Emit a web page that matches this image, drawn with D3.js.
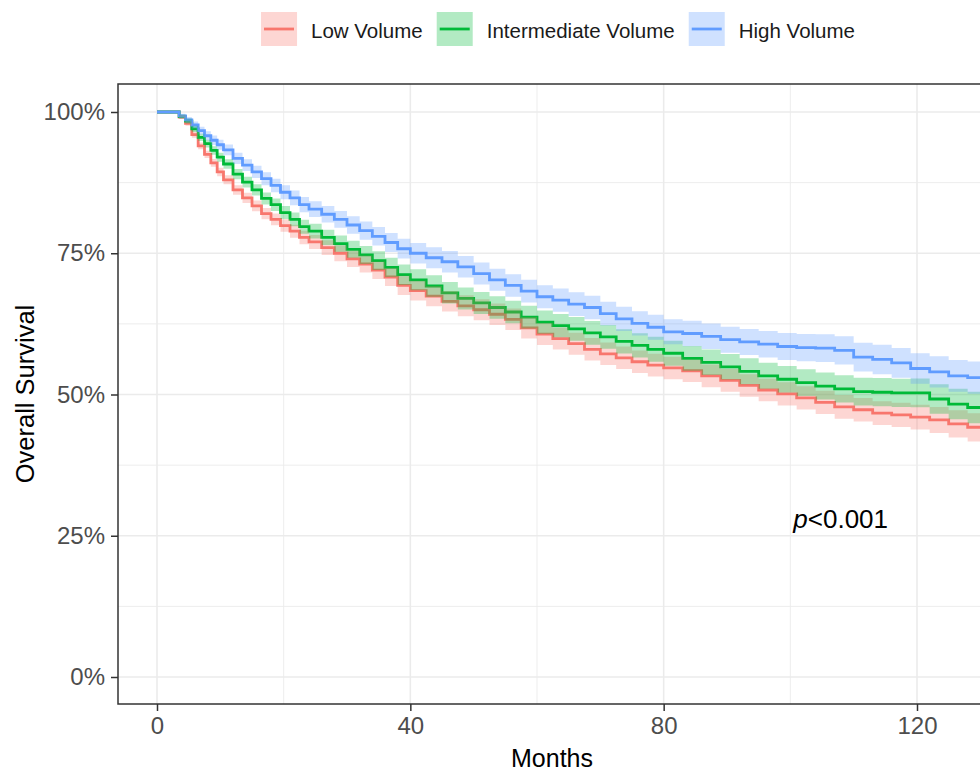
<!DOCTYPE html>
<html>
<head>
<meta charset="utf-8">
<script src="https://cdn.jsdelivr.net/npm/d3@7"></script>
<style>
  body { margin: 0; background: #fff; }
  svg { display: block; font-family: "Liberation Sans", Arial, sans-serif; }
</style>
</head>
<body>
<svg id="chart" width="980" height="773"></svg>
<script>
// time points (months) where the step curves are read
var months = [0, 2.5, 3.5, 4.5, 5.5, 6.5, 7.5, 8.5, 9.5, 10.5,
  12, 13.5, 15, 16.5, 18, 19.5, 21, 22.5, 24,
  26, 28, 30, 32, 34, 36, 38, 40,
  42.5, 45, 47.5, 50, 52.5, 55, 57.5, 60, 62.5, 65, 67.5, 70, 72.5, 75, 77.5, 80,
  83, 86, 89, 92, 95, 98, 101, 104, 107, 110, 113, 116, 119, 122, 125, 128, 131, 134];

var groups = ["Low Volume", "Intermediate Volume", "High Volume"];
var colors = ["#F8766D", "#00BA38", "#619CFF"];

// survival estimates
var lowSurv = [1, 1, 0.991, 0.980, 0.960, 0.940, 0.925, 0.910, 0.894, 0.880,
  0.862, 0.848, 0.834, 0.820, 0.810, 0.799, 0.789, 0.778, 0.770,
  0.760, 0.750, 0.740, 0.731, 0.720, 0.708, 0.693, 0.684,
  0.674, 0.665, 0.657, 0.650, 0.642, 0.633, 0.618, 0.607, 0.599, 0.590, 0.580, 0.572, 0.565, 0.558, 0.552, 0.547,
  0.542, 0.533, 0.525, 0.516, 0.508, 0.501, 0.494, 0.486, 0.478, 0.473, 0.467, 0.464, 0.460, 0.455, 0.448, 0.442, 0.440, 0.438];
var midSurv = [1, 1, 0.992, 0.984, 0.970, 0.955, 0.944, 0.932, 0.920, 0.908,
  0.890, 0.876, 0.862, 0.847, 0.836, 0.822, 0.810, 0.797, 0.789,
  0.778, 0.767, 0.757, 0.747, 0.737, 0.725, 0.712, 0.703,
  0.692, 0.680, 0.670, 0.662, 0.654, 0.646, 0.637, 0.628, 0.622, 0.616, 0.609, 0.602, 0.594, 0.587, 0.580, 0.573,
  0.564, 0.557, 0.549, 0.541, 0.533, 0.527, 0.521, 0.515, 0.510, 0.505, 0.504, 0.503, 0.503, 0.492, 0.483, 0.477, 0.472, 0.469];
var highSurv = [1, 1, 0.993, 0.986, 0.977, 0.967, 0.958, 0.950, 0.942, 0.933,
  0.918, 0.906, 0.894, 0.882, 0.870, 0.858, 0.848, 0.836, 0.828,
  0.819, 0.810, 0.800, 0.790, 0.780, 0.769, 0.758, 0.750,
  0.742, 0.735, 0.726, 0.714, 0.703, 0.693, 0.683, 0.673, 0.667, 0.660, 0.654, 0.643, 0.634, 0.626, 0.619, 0.611,
  0.608, 0.603, 0.597, 0.593, 0.589, 0.585, 0.583, 0.582, 0.578, 0.566, 0.562, 0.556, 0.546, 0.540, 0.533, 0.530, 0.528, 0.526];

// half width of the confidence band, in percentage points
var lowCi = [0, 0, 0.35, 0.45, 0.55, 0.6, 0.65, 0.7, 0.75, 0.8,
  0.85, 0.9, 0.95, 1.0, 1.05, 1.1, 1.15, 1.2, 1.25,
  1.3, 1.4, 1.45, 1.5, 1.55, 1.6, 1.7, 1.75,
  1.8, 1.8, 1.85, 1.85, 1.9, 1.9, 1.9, 1.95, 1.95, 1.95, 2.0, 2.0, 2.0, 2.0, 2.0, 2.0,
  2.0, 2.0, 2.0, 2.0, 2.0, 2.05, 2.05, 2.05, 2.1, 2.1, 2.1, 2.15, 2.2, 2.3, 2.4, 2.5, 2.6, 2.7];
var midCi = [0, 0, 0.35, 0.45, 0.55, 0.65, 0.7, 0.75, 0.8, 0.85,
  0.9, 0.95, 1.0, 1.05, 1.1, 1.15, 1.2, 1.25, 1.3,
  1.35, 1.45, 1.5, 1.6, 1.65, 1.7, 1.8, 1.85,
  1.9, 1.9, 1.95, 1.95, 2.0, 2.0, 2.0, 2.05, 2.05, 2.1, 2.1, 2.1, 2.15, 2.15, 2.2, 2.2,
  2.2, 2.25, 2.25, 2.3, 2.3, 2.35, 2.35, 2.4, 2.4, 2.45, 2.5, 2.5, 2.55, 2.6, 2.7, 2.8, 2.9, 3.0];
var highCi = [0, 0, 0.4, 0.5, 0.6, 0.7, 0.8, 0.85, 0.9, 0.95,
  1.0, 1.05, 1.1, 1.15, 1.2, 1.25, 1.3, 1.35, 1.4,
  1.45, 1.5, 1.55, 1.6, 1.65, 1.7, 1.75, 1.8,
  1.85, 1.9, 1.9, 1.95, 1.95, 2.0, 2.0, 2.05, 2.05, 2.1, 2.1, 2.1, 2.15, 2.15, 2.2, 2.2,
  2.25, 2.25, 2.3, 2.3, 2.35, 2.4, 2.4, 2.45, 2.5, 2.55, 2.6, 2.65, 2.7, 2.75, 2.8, 2.85, 2.9, 3.0];

var xTicks = [0, 40, 80, 120];
var xMinor = [20, 60, 100];
var yTicks = [0, 0.25, 0.5, 0.75, 1];
var yMinor = [0.125, 0.375, 0.625, 0.875];
var pText = "<0.001";

var survs = [lowSurv, midSurv, highSurv];
var cis = [lowCi, midCi, highCi];

var svg = d3.select("#chart");

// panel box, right side runs off the picture
var panel = { left: 118, top: 84, right: 986, bottom: 704 };

var x = d3.scaleLinear().domain([0, 120]).range([157, 917]);
var y = d3.scaleLinear().domain([0, 1]).range([677, 112]);

svg.append("defs").append("clipPath").attr("id", "panelClip")
  .append("rect").attr("x", panel.left).attr("y", panel.top)
  .attr("width", panel.right - panel.left).attr("height", panel.bottom - panel.top);

// grid
var grid = svg.append("g");
grid.selectAll(".xminor").data(xMinor).enter().append("line")
  .attr("x1", function (d) { return x(d); }).attr("x2", function (d) { return x(d); })
  .attr("y1", panel.top).attr("y2", panel.bottom)
  .attr("stroke", "#EBEBEB").attr("stroke-width", 0.9);
grid.selectAll(".yminor").data(yMinor).enter().append("line")
  .attr("y1", function (d) { return y(d); }).attr("y2", function (d) { return y(d); })
  .attr("x1", panel.left).attr("x2", panel.right)
  .attr("stroke", "#EBEBEB").attr("stroke-width", 0.9);
grid.selectAll(".xmajor").data(xTicks).enter().append("line")
  .attr("x1", function (d) { return x(d); }).attr("x2", function (d) { return x(d); })
  .attr("y1", panel.top).attr("y2", panel.bottom)
  .attr("stroke", "#EBEBEB").attr("stroke-width", 1.6);
grid.selectAll(".ymajor").data(yTicks).enter().append("line")
  .attr("y1", function (d) { return y(d); }).attr("y2", function (d) { return y(d); })
  .attr("x1", panel.left).attr("x2", panel.right)
  .attr("stroke", "#EBEBEB").attr("stroke-width", 1.6);

var plot = svg.append("g").attr("clip-path", "url(#panelClip)");

var line = d3.line().curve(d3.curveStepAfter)
  .x(function (d) { return x(d[0]); }).y(function (d) { return y(d[1]); });
var band = d3.area().curve(d3.curveStepAfter)
  .x(function (d) { return x(d[0]); })
  .y0(function (d) { return y(d[1] - d[2] / 100); })
  .y1(function (d) { return y(Math.min(1, d[1] + d[2] / 100)); });

// lines first, ribbons go over them like in survminer
for (var g = 0; g < groups.length; g++) {
  var pts = months.map(function (m, i) { return [m, survs[g][i], cis[g][i]]; });
  plot.append("path").datum(pts).attr("d", line)
    .attr("fill", "none").attr("stroke", colors[g]).attr("stroke-width", 2.8);
}
for (var g = 0; g < groups.length; g++) {
  var pts = months.map(function (m, i) { return [m, survs[g][i], cis[g][i]]; });
  plot.append("path").datum(pts).attr("d", band)
    .attr("fill", colors[g]).attr("fill-opacity", 0.3).attr("stroke", "none");
}

// border
svg.append("rect").attr("x", panel.left).attr("y", panel.top)
  .attr("width", panel.right - panel.left).attr("height", panel.bottom - panel.top)
  .attr("fill", "none").attr("stroke", "#333333").attr("stroke-width", 1.5);

// axes
var xAxis = svg.append("g").attr("transform", "translate(0," + panel.bottom + ")")
  .call(d3.axisBottom(x).tickValues(xTicks).tickSize(7).tickPadding(6).tickSizeOuter(0));
var yAxis = svg.append("g").attr("transform", "translate(" + panel.left + ",0)")
  .call(d3.axisLeft(y).tickValues(yTicks).tickSize(7).tickPadding(6).tickSizeOuter(0)
    .tickFormat(function (d) { return Math.round(d * 100) + "%"; }));
[xAxis, yAxis].forEach(function (a) {
  a.select(".domain").remove();
  a.selectAll(".tick line").attr("stroke", "#333333").attr("stroke-width", 1.5);
  a.selectAll(".tick text").attr("fill", "#4D4D4D").style("font-size", "24px")
    .style("font-family", "Liberation Sans, Arial, sans-serif");
});

svg.append("text").attr("x", (panel.left + panel.right) / 2).attr("y", 767)
  .attr("text-anchor", "middle").style("font-size", "25px").attr("fill", "#000")
  .text("Months");
svg.append("text").attr("transform", "translate(34," + ((panel.top + panel.bottom) / 2) + ") rotate(-90)")
  .attr("text-anchor", "middle").style("font-size", "25.5px").attr("fill", "#000")
  .text("Overall Survival");

// p value
var pv = svg.append("text").attr("x", x(100) + 3).attr("y", y(0.28))
  .attr("dominant-baseline", "central").style("font-size", "26px").attr("fill", "#000");
pv.append("tspan").style("font-style", "italic").text("p");
pv.append("tspan").text(pText);

// legend on top
var legend = svg.append("g");
var keyW = 36, keyH = 34, keyGap = 14, itemGap = 14;
var lx = 0;
for (var g = 0; g < groups.length; g++) {
  var item = legend.append("g").attr("transform", "translate(" + lx + ",0)");
  item.append("rect").attr("x", 0).attr("y", 0).attr("width", keyW).attr("height", keyH)
    .attr("fill", colors[g]).attr("fill-opacity", 0.3);
  item.append("line").attr("x1", 3).attr("x2", keyW - 3).attr("y1", keyH / 2).attr("y2", keyH / 2)
    .attr("stroke", colors[g]).attr("stroke-width", 2.8);
  var t = item.append("text").attr("x", keyW + keyGap).attr("y", keyH / 2 + 1)
    .attr("dominant-baseline", "central").style("font-size", "20.5px").attr("fill", "#1a1a1a")
    .text(groups[g]);
  lx += keyW + keyGap + t.node().getComputedTextLength() + itemGap;
}
var legW = lx - itemGap;
legend.attr("transform", "translate(" + (558 - legW / 2) + ",12)");
</script>
</body>
</html>
